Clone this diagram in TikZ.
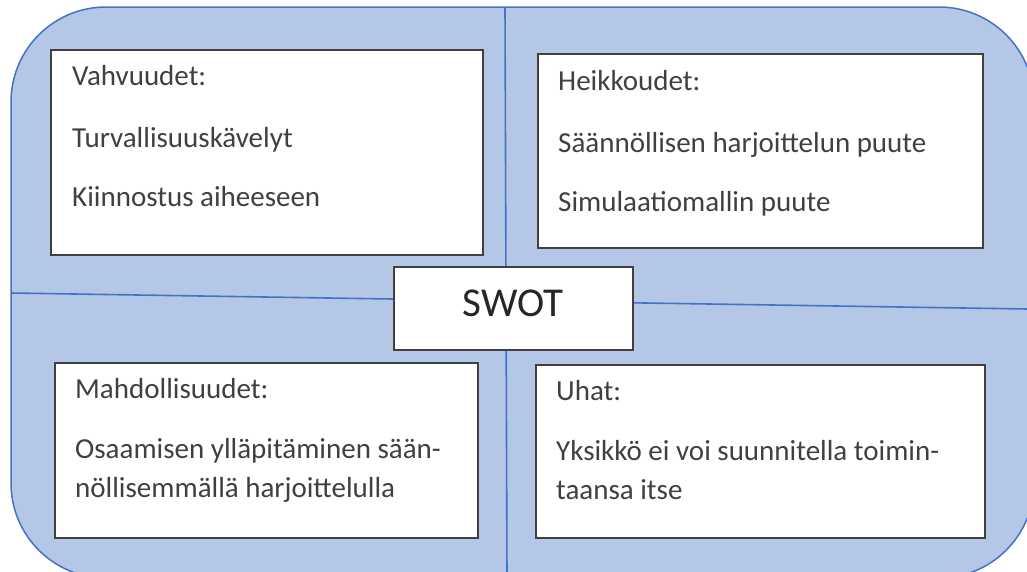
\documentclass[tikz,border=0pt]{standalone}
\usepackage{fontspec}
\setmainfont{Carlito}
\definecolor{panel}{HTML}{B4C7E7}
\definecolor{rule}{HTML}{4472C4}
\definecolor{ink}{HTML}{404040}
\tikzset{
  quadbox/.style={draw=ink, line width=2pt, fill=white, anchor=north west, inner sep=0pt},
  itemtext/.style={anchor=base west, inner sep=0pt, text=ink, font=\fontsize{29}{35}\selectfont},
  divider/.style={draw=rule, line width=1.6pt},
}
\begin{document}
\begin{tikzpicture}[x=1pt,y=-1pt]
\useasboundingbox (0,0) rectangle (1027,571);
\begin{scope}
\clip (0,0) rectangle (1027,571);
% rounded background panel
\path[fill=panel, draw=rule, line width=1.5pt, rounded corners=95pt] (11,7) rectangle (1034,578);
% axis lines dividing the four fields
\coordinate (vtop) at (505,7);
\coordinate (vbot) at (507,578);
\coordinate (hleft) at (11,293);
\coordinate (hright) at (1027,309);
\draw[divider] (vtop) -- (vbot);
\draw[divider] (hleft) -- (hright);
\end{scope}

% four fields
\node[quadbox, minimum width=432pt, minimum height=205pt] (S) at (50,49) {};
\node[quadbox, minimum width=445pt, minimum height=194pt] (W) at (537,53) {};
\node[quadbox, minimum width=423pt, minimum height=175pt] (O) at (54,362) {};
\node[quadbox, minimum width=449pt, minimum height=173pt] (T) at (535,364) {};

% centre box
\node[quadbox, minimum width=239pt, minimum height=83pt] (swot) at (393,266) {};
\node[anchor=base, inner sep=0pt, text=black!85, font=\fontsize{41}{49}\selectfont] (swotlabel) at (513,316) {SWOT};

% strengths
\node[itemtext] (s1) at (72,85) {Vahvuudet:};
\node[itemtext] (s2) at (72,147) {Turvallisuuskävelyt};
\node[itemtext] (s3) at (72,206) {Kiinnostus aiheeseen};

% weaknesses
\node[itemtext] (w1) at (558,90) {Heikkoudet:};
\node[itemtext] (w2) at (558,152) {Säännöllisen harjoittelun puute};
\node[itemtext] (w3) at (558,211) {Simulaatiomallin puute};

% opportunities
\node[itemtext] (o1) at (75,398) {Mahdollisuudet:};
\node[itemtext] (o2) at (75,458) {Osaamisen ylläpitäminen sään-};
\node[itemtext] (o3) at (75,497) {nöllisemmällä harjoittelulla};

% threats
\node[itemtext] (t1) at (556,400) {Uhat:};
\node[itemtext] (t2) at (556,460) {Yksikkö ei voi suunnitella toimin-};
\node[itemtext] (t3) at (556,499) {taansa itse};
\end{tikzpicture}
\end{document}
